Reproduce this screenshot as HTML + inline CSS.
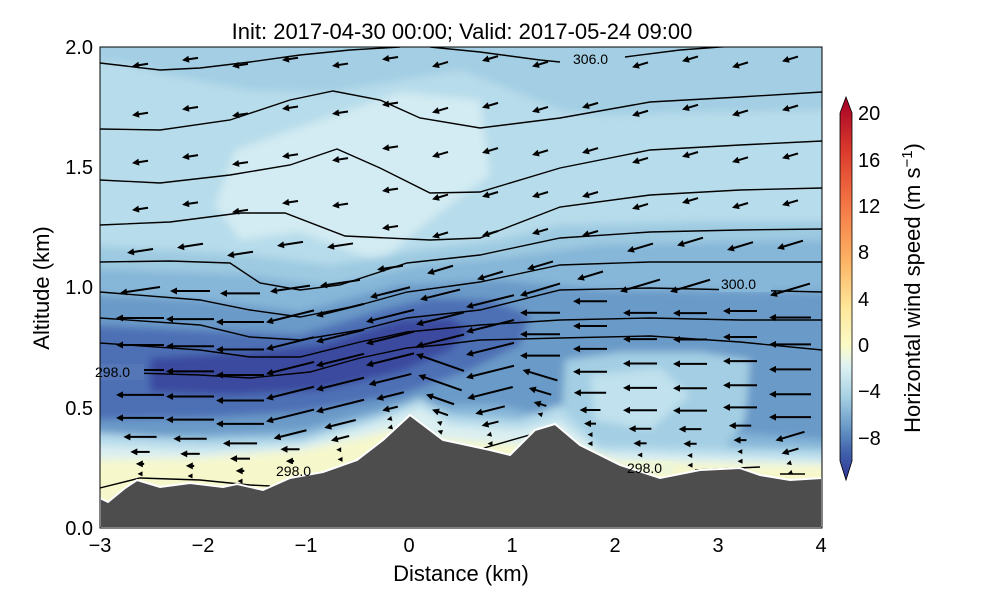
<!DOCTYPE html>
<html><head><meta charset="utf-8"><style>
body{margin:0;background:#fff;}
svg text{font-family:"Liberation Sans","DejaVu Sans",sans-serif;}
</style></head><body>
<svg id="s" width="1000" height="600" viewBox="0 0 1000 600" xmlns="http://www.w3.org/2000/svg">
<defs>
<clipPath id="c"><rect x="100" y="47" width="722" height="481"/></clipPath>
<filter id="b" x="-20%" y="-20%" width="140%" height="140%"><feGaussianBlur stdDeviation="4"/></filter>
<linearGradient id="cb" x1="0" y1="1" x2="0" y2="0">
<stop offset="0" stop-color="#313695"/><stop offset="0.07" stop-color="#4060aa"/>
<stop offset="0.14" stop-color="#6a9ac8"/><stop offset="0.22" stop-color="#a9d3e5"/>
<stop offset="0.30" stop-color="#e0f3f2"/><stop offset="0.35" stop-color="#fbfbc8"/>
<stop offset="0.45" stop-color="#fee79a"/><stop offset="0.57" stop-color="#fdb465"/>
<stop offset="0.72" stop-color="#f47645"/><stop offset="0.86" stop-color="#da3a2c"/>
<stop offset="1" stop-color="#a50026"/>
</linearGradient>
</defs>
<text x="462" y="39" font-size="22" text-anchor="middle">Init: 2017-04-30 00:00; Valid: 2017-05-24 09:00</text>
<g clip-path="url(#c)">
<rect x="100" y="47" width="722" height="481" fill="#b7dceb"/>
<g filter="url(#b)">
<path d="M80,40 L830,40 L830,110 L700,112 L600,115 L560,110 L500,85 L460,70 L400,80 L330,92 L250,90 L170,75 L120,62 L80,62 Z" fill="#a3cee3"/>
<path d="M215,205 L235,150 L320,120 L400,92 L480,100 L490,175 L430,220 L380,262 L300,232 L240,240 Z" fill="#d3ebf2"/>
<path d="M80,245 L250,255 L330,265 L420,250 L500,240 L560,225 L700,222 L830,222 L830,470 L80,470 Z" fill="#9ecae1"/>
<path d="M80,268 L250,275 L330,285 L420,265 L500,258 L600,245 L830,240 L830,470 L80,470 Z" fill="#86b6d8"/>
<path d="M80,295 L200,300 L300,312 L400,285 L500,280 L600,290 L830,292 L830,440 L560,420 L500,405 L400,405 L300,430 L80,440 Z" fill="#6a9ac8"/>
<path d="M80,325 L200,330 L300,335 L380,310 L430,298 L490,300 L530,315 L520,345 L470,370 L400,395 L300,412 L200,418 L80,420 Z" fill="#4d6fb5"/>
<path d="M150,358 L250,352 L320,345 L400,320 L450,318 L470,330 L450,350 L400,372 L320,390 L230,395 L150,392 Z" fill="#3a4a9f"/>
<path d="M565,360 L620,352 L700,352 L750,360 L745,420 L720,455 L560,455 Z" fill="#a3cee3"/>
<path d="M590,375 L660,368 L690,395 L650,430 L595,420 Z" fill="#c0e1ed"/>
<path d="M80,432 L200,440 L300,438 L380,415 L420,398 L450,415 L520,420 L560,405 L600,445 L830,450 L830,530 L80,530 Z" fill="#b7dceb"/>
<path d="M80,445 L200,450 L300,445 L370,425 L420,408 L450,425 L520,430 L560,420 L600,452 L830,460 L830,530 L80,530 Z" fill="#dbeff1"/>
<path d="M80,460 L200,458 L300,450 L360,438 L390,430 L430,438 L520,445 L560,440 L620,462 L830,465 L830,530 L80,530 Z" fill="#f6f8cc"/>
</g>
<g fill="none" stroke="#000" stroke-width="1.4" id="lines"></g>
<g id="arr" fill="#000" stroke="#000"></g>
<rect x="571" y="50" width="50" height="16" fill="#a3cee3"/>
<rect x="719" y="276" width="52" height="16" fill="#86b6d8"/>
<rect x="100" y="364" width="44" height="16" fill="#5577b8"/>
<rect x="274" y="464" width="48" height="13" fill="#f6f8cc"/>
<rect x="625" y="461" width="48" height="13" fill="#eef6d8"/>
<path d="M100,498 L108,502 L125,488 L137,480 L160,487 L190,483 L223,487 L237,484 L263,490 L290,478 L323,472 L357,460 L383,440 L410,415 L443,440 L490,450 L510,455 L535,430 L555,424 L580,445 L620,465 L660,478 L700,470 L740,468 L760,475 L790,480 L822,478 L822,528 L100,528 Z" fill="#4d4d4d" stroke="#fff" stroke-width="2"/>
</g>
<rect x="100" y="47" width="722" height="481" fill="none" stroke="#000" stroke-width="1"/>
<g font-size="14">
<text x="573" y="64">306.0</text>
<text x="721" y="289">300.0</text>
<text x="95" y="377">298.0</text>
<text x="276" y="476">298.0</text>
<text x="627" y="473">298.0</text>
</g>
<g font-size="20" text-anchor="middle">
<text x="100" y="552">−3</text><text x="203" y="552">−2</text><text x="306" y="552">−1</text><text x="409" y="552">0</text><text x="512" y="552">1</text><text x="615" y="552">2</text><text x="718" y="552">3</text><text x="821" y="552">4</text>
</g>
<g font-size="20" text-anchor="end">
<text x="93" y="535">0.0</text><text x="93" y="415">0.5</text><text x="93" y="294">1.0</text><text x="93" y="174">1.5</text><text x="93" y="54">2.0</text>
</g>
<text x="461" y="581" font-size="22" text-anchor="middle">Distance (km)</text>
<text transform="translate(49,288) rotate(-90)" font-size="22" text-anchor="middle">Altitude (km)</text>
<path d="M840,113 L846,97 L852,113 L852,461 L846,480 L840,461 Z" fill="url(#cb)" stroke="#000" stroke-width="0.8"/>
<g font-size="20">
<text x="858" y="120">20</text><text x="858" y="167">16</text><text x="858" y="213">12</text><text x="858" y="259">8</text><text x="858" y="306">4</text><text x="858" y="352">0</text><text x="858" y="398">−4</text><text x="858" y="445">−8</text>
</g>
<text transform="translate(920,288) rotate(-90)" font-size="22" text-anchor="middle">Horizontal wind speed (m s<tspan dy="-8" font-size="15">−1</tspan><tspan dy="8">)</tspan></text>
</svg>
<script>
var NS="http://www.w3.org/2000/svg";
var L=[
[[100,63],[160,70],[200,68],[250,62],[300,55],[350,50],[400,47]],
[[430,47],[480,52],[540,60],[560,62]],
[[625,57],[680,50],[720,47],[760,45]],
[[100,129],[160,130],[230,120],[290,100],[333,91],[380,100],[420,118],[480,128],[560,118],[650,102],[740,97],[822,92]],
[[100,180],[160,183],[230,175],[290,165],[337,149],[380,168],[430,193],[480,192],[560,168],[650,150],[740,145],[822,141]],
[[100,225],[170,222],[240,213],[285,213],[345,236],[430,240],[480,238],[560,207],[650,195],[740,190],[822,188]],
[[100,262],[170,261],[230,263],[260,283],[300,290],[340,285],[407,263],[480,255],[560,238],[650,232],[740,230],[822,229]],
[[100,292],[200,300],[250,310],[300,317],[360,305],[407,292],[480,282],[560,265],[650,262],[740,262],[822,262]],
[[100,318],[200,325],[250,337],[300,340],[360,330],[407,318],[480,310],[560,290],[650,288],[740,290],[822,292]],
[[100,343],[200,350],[250,357],[300,357],[360,342],[407,332],[480,325],[560,320],[650,318],[740,320],[822,320]],
[[100,372],[200,375],[250,378],[310,372],[360,358],[407,348],[440,345],[480,340],[560,338],[650,336],[740,342],[822,350]],
[[100,488],[140,478],[200,480],[250,485],[270,486]],
[[440,450],[470,452],[540,432]],
[[695,470],[760,467]],[[780,474],[805,474]]
];
var g=document.getElementById("lines");
L.forEach(function(p){var e=document.createElementNS(NS,"polyline");e.setAttribute("points",p.map(function(q){return q.join(",")}).join(" "));g.appendChild(e);});
function ground(x){var t=[[100,498],[137,480],[160,487],[190,483],[223,487],[263,490],[290,478],[323,472],[357,460],[383,440],[410,415],[443,440],[490,450],[510,455],[535,430],[555,424],[580,445],[620,465],[660,478],[700,470],[740,468],[790,480],[822,478]];
for(var i=0;i<t.length-1;i++){if(x>=t[i][0]&&x<=t[i+1][0]){var f=(x-t[i][0])/(t[i+1][0]-t[i][0]);return t[i][1]+f*(t[i+1][1]-t[i][1]);}}return 480;}
var a=document.getElementById("arr");
var rows=[65,114,162,209,251,290,318,345,370,395,418,437,452,464,474];
var cols=[140,190,240,290,340,390,440,490,540,590,640,690,740,790];
rows.forEach(function(r,ri){cols.forEach(function(x,ci){
 var gy=ground(x);
 var st=(ci%2)?-6:0; if(ri>4)st=0;
 var y=r+st+(gy-481)*Math.pow((r-47)/434,1.3);
 if(y>gy-6||y<50)return;
 var len=16; if(y>235)len=26; if(y>280)len=40; if(y>300&&x<540)len=48;
 if(y>300&&x>=560)len=34; if(x>760&&y>290)len=42;
 var d=gy-y; if(d<60)len=Math.max(5,len*(d-8)/52);
 var dy=0;
 if(y<290&&x>430)dy=0.3*len;
 if(y<290&&x<=430)dy=0.15*len;
 if(x>240&&x<520&&y>=290&&y<440)dy=0.25*len;
 if(x>400&&x<470&&y>360)dy=-0.35*len;
 if(x>530&&x<580&&y>360)dy=-0.3*len;
 if(x>770&&y>430)dy=0.3*len;
 var hx=x-len/2, hy=y+dy/2, tx=x+len/2, ty=y-dy/2;
 var ang=Math.atan2(hy-ty,hx-tx),s=7,w=3.5;
 if(len>8){var l=document.createElementNS(NS,"line");l.setAttribute("x1",tx);l.setAttribute("y1",ty);l.setAttribute("x2",hx-Math.cos(ang)*4);l.setAttribute("y2",hy-Math.sin(ang)*4);l.setAttribute("stroke-width","2");a.appendChild(l);}
 else{s=5;w=2.5;}
 var bx=hx-Math.cos(ang)*s,by=hy-Math.sin(ang)*s;
 var p=document.createElementNS(NS,"polygon");
 p.setAttribute("points",hx+","+hy+" "+(bx-Math.sin(ang)*w)+","+(by+Math.cos(ang)*w)+" "+(bx+Math.sin(ang)*w)+","+(by-Math.cos(ang)*w));
 p.setAttribute("stroke","none");a.appendChild(p);
});});
</script>
</body></html>
